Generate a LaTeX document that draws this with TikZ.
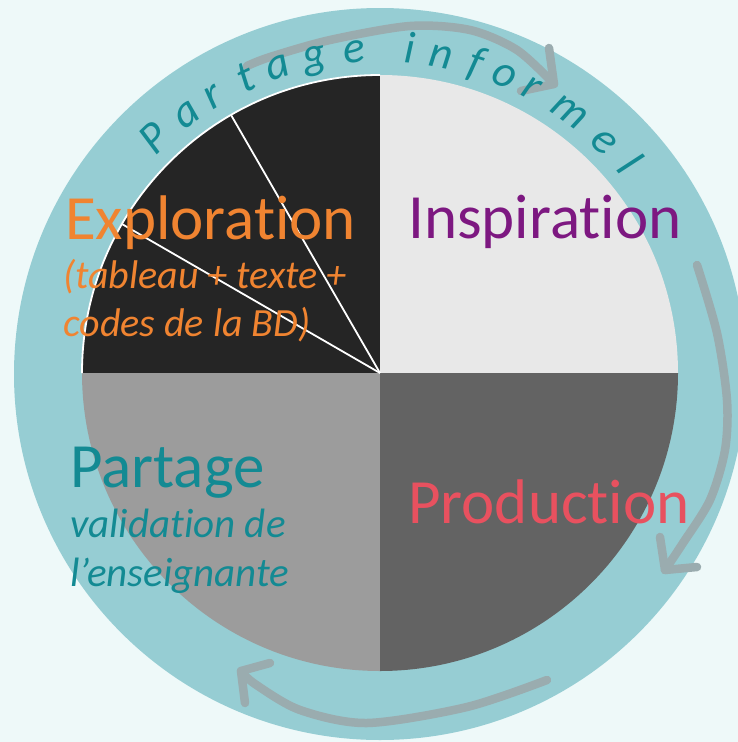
\documentclass[tikz,border=0pt]{standalone}
\usepackage{fontspec}
\setmainfont{Carlito}[Ligatures={NoCommon,NoContextual}]
\usetikzlibrary{calc}
\definecolor{bg}{HTML}{EEF9F9}
\definecolor{ring}{HTML}{96CDD3}
\definecolor{arr}{HTML}{9AACAF}
\definecolor{qdark}{HTML}{252525}
\definecolor{qlight}{HTML}{E8E8E8}
\definecolor{qmid}{HTML}{636363}
\definecolor{qgrey}{HTML}{9C9C9C}
\definecolor{corange}{HTML}{F08431}
\definecolor{cpurple}{HTML}{7D1881}
\definecolor{cpink}{HTML}{E8515F}
\definecolor{cteal}{HTML}{138A93}
\begin{document}
\begin{tikzpicture}[x=1pt,y=-1pt,
 big/.style={font=\fontsize{63}{63}\selectfont, anchor=base west, inner sep=0pt},
 sub/.style={font=\fontsize{40}{40}\selectfont\itshape, anchor=base west, inner sep=0pt},
 subb/.style={font=\fontsize{41}{41}\selectfont\itshape, anchor=base west, inner sep=0pt},
 arcletter/.style={font=\fontsize{45}{45}\selectfont\itshape, text=cteal, anchor=base, inner sep=0pt},
 cyclearrow/.style={draw=arr, line width=8.5pt, line cap=round, line join=round},
 divider/.style={draw=white, line width=1.8pt}]
\useasboundingbox (0,0) rectangle (738,742);
\fill[bg] (0,0) rectangle (738,742);
\coordinate (C) at (380,373);
\fill[ring] (380,374) circle (366);
\begin{scope}
\clip (C) circle (298);
\fill[qdark] (C) rectangle (70,60);
\fill[qlight] (C) rectangle (690,60);
\fill[qmid] (C) rectangle (690,690);
\fill[qgrey] (C) rectangle (70,690);
\end{scope}
\coordinate (top) at ($(C)+(-90:298)$);
\coordinate (d1) at ($(C)+(-120:298)$);
\coordinate (d2) at ($(C)+(-150:298)$);
\draw[divider] (top) arc[start angle=-90, end angle=-180, radius=298];
\draw[divider] (C) -- (d1);
\draw[divider] (C) -- (d2);
% arrows
\draw[cyclearrow] plot[smooth] coordinates {(247,66) (270,57) (330,40) (410,26) (470,30) (517,50) (554,84)};
\draw[cyclearrow] (549,48) -- (554,84) -- (521,91);
\draw[cyclearrow] plot[smooth] coordinates {(697,265) (717,333) (727,400) (725,450) (710,500) (683,543) (665,570)};
\draw[cyclearrow] (660,537) -- (665,570) -- (697,567);
\draw[cyclearrow] plot[smooth] coordinates {(547,680) (467,707) (367,723) (300,710) (255,684) (241,671)};
\draw[cyclearrow] (270,663) -- (241,671) -- (245,703);
% texts
\node[big, text=corange] (explo) at (65,239) {Exploration};
\node[sub, text=corange] (explo1) at (63,288) {(tableau + texte +};
\node[sub, text=corange] (explo2) at (63,336) {codes de la BD)};
\node[big, text=cpurple] (insp) at (408,238) {Inspiration};
\node[big, text=cpink] (prod) at (408,523) {Production};
\node[big, text=cteal] (part) at (70,487) {Partage};
\node[subb, text=cteal] (part1) at (70,537) {validation de};
\node[subb, text=cteal] (part2) at (70,586) {l’enseignante};
\foreach \ch/\ang [count=\i] in {P/133.9, a/126.8, r/121.2, t/114.5, a/108.4, g/101.7, e/94.6, i/84.7, n/79.1, f/72.7, o/67.2, r/62.0, m/54.0, e/45.9, l/39.8}
  \node[arcletter, rotate=\ang-90] (arc\i) at ($(C)+(-\ang:311)$) {\ch};
\end{tikzpicture}
\end{document}
